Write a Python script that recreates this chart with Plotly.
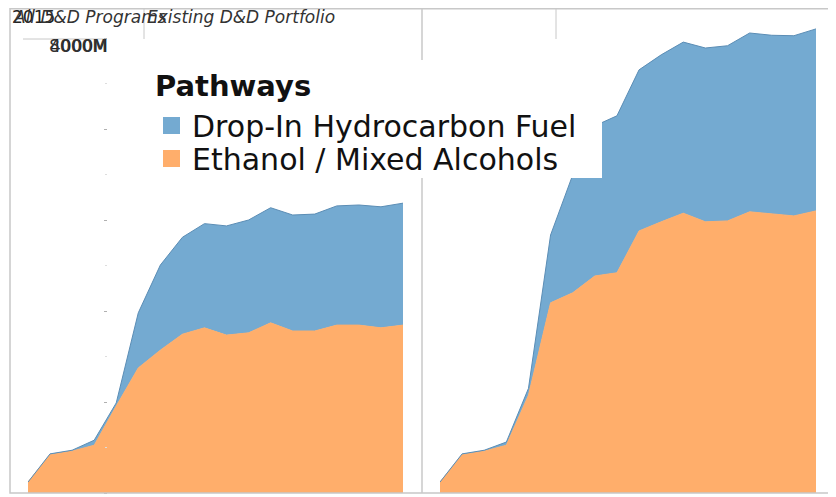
import plotly.graph_objects as go

W, H = 836, 497
OFF = 8  # page body margin offset

years = list(range(2013, 2031))

# All D&D Programs (left panel), $M
all_ethanol = [24, 84, 92, 105, 191, 275, 314, 349, 363, 347, 352, 374, 356, 356, 369, 369, 363, 369]
all_dropin = [0, 2, 2, 11, 7, 121, 187, 213, 229, 240, 248, 253, 255, 257, 262, 264, 266, 268]

# Existing D&D Portfolio (right panel), $M
ex_ethanol = [24, 84, 92, 105, 215, 418, 440, 477, 484, 576, 596, 615, 596, 598, 618, 613, 609, 620]
ex_dropin = [0, 2, 2, 7, 15, 149, 259, 330, 345, 354, 367, 376, 382, 385, 393, 393, 396, 400]

panel_titles = ["All D&D Programs", "Existing D&D Portfolio"]
series_names = ["Drop-In Hydrocarbon Fuel", "Ethanol / Mixed Alcohols"]
legend_title = "Pathways"

BLUE = "#74aad1"
BLUE_LINE = "#5b8db5"
ORANGE = "#ffae6b"
FRAME = "#c8c8c8"
FONT = "DejaVu Sans"


def px(x):
    return min(max((x - OFF) / W, 0), 1)


def py(y):
    return min(max((H - (y - OFF)) / H, 0), 1)


fig = go.Figure()

panels = [(all_ethanol, all_dropin, "x", "y", "a"), (ex_ethanol, ex_dropin, "x2", "y2", "b")]
for eth, drop, xa, ya, grp in panels:
    fig.add_trace(go.Scatter(x=years, y=eth, xaxis=xa, yaxis=ya, stackgroup=grp,
                             mode="lines", line=dict(color=ORANGE, width=1),
                             fillcolor=ORANGE, name=series_names[1], hoverinfo="skip"))
    fig.add_trace(go.Scatter(x=years, y=drop, xaxis=xa, yaxis=ya, stackgroup=grp,
                             mode="lines", line=dict(color=BLUE_LINE, width=1),
                             fillcolor=BLUE, name=series_names[0], hoverinfo="skip"))

ymax = 485 / 0.455

fig.update_layout(
    width=W, height=H,
    margin=dict(l=0, r=0, t=0, b=0),
    paper_bgcolor="white", plot_bgcolor="white",
    font=dict(family=FONT, color="#000000"),
    showlegend=False,
    xaxis=dict(domain=[px(28), px(403)], range=[2013, 2030], visible=False),
    xaxis2=dict(domain=[px(440), px(816)], range=[2013, 2030], visible=False, anchor="y2"),
    yaxis=dict(domain=[py(493), py(8)], range=[0, ymax], showgrid=False, zeroline=False,
               showticklabels=False, showline=False, anchor="free", position=px(107),
               ticks="outside", ticklen=3, tickcolor="#b0b0b0", dtick=200, tick0=0,
               minor=dict(ticks="outside", ticklen=2, dtick=100, tickcolor="#dddddd")),
    yaxis2=dict(domain=[py(493), py(8)], range=[0, ymax], visible=False, anchor="x2", matches="y"),
)

shapes = [
    dict(type="rect", xref="paper", yref="paper", x0=px(10), x1=px(833), y0=py(493), y1=py(8.7),
         line=dict(color=FRAME, width=1.5), layer="above"),
    dict(type="line", xref="paper", yref="paper", x0=px(422), x1=px(422), y0=py(493), y1=py(8),
         line=dict(color=FRAME, width=1.5), layer="above"),
    dict(type="line", xref="paper", yref="paper", x0=px(144), x1=px(144), y0=py(39), y1=py(8),
         line=dict(color=FRAME, width=1), layer="above"),
    dict(type="line", xref="paper", yref="paper", x0=px(556), x1=px(556), y0=py(39), y1=py(8),
         line=dict(color=FRAME, width=1), layer="above"),
    dict(type="line", xref="paper", yref="paper", x0=px(23), x1=px(107), y0=py(39), y1=py(39),
         line=dict(color=FRAME, width=1), layer="below"),
    # legend box
    dict(type="rect", xref="paper", yref="paper", x0=px(145), x1=px(602), y0=py(178), y1=py(60),
         line=dict(width=0), fillcolor="white", layer="above"),
    dict(type="rect", xref="paper", yref="paper", x0=px(163), x1=px(180), y0=py(134), y1=py(117),
         line=dict(width=0), fillcolor=BLUE, layer="above"),
    dict(type="rect", xref="paper", yref="paper", x0=px(163), x1=px(180), y0=py(167), y1=py(150),
         line=dict(width=0), fillcolor=ORANGE, layer="above"),
]
fig.update_layout(shapes=shapes)

annotations = [
    dict(text="2015", x=px(10), y=py(17), xanchor="left", yanchor="middle",
         font=dict(size=17, color="#222222", family=FONT)),
    dict(text="<i>" + panel_titles[0] + "</i>", x=px(11), y=py(17), xanchor="left", yanchor="middle",
         font=dict(size=17, color="#333333", family=FONT)),
    dict(text="<i>" + panel_titles[1] + "</i>", x=px(145), y=py(17), xanchor="left", yanchor="middle",
         font=dict(size=17, color="#333333", family=FONT)),
    dict(text="4000M", x=px(48), y=py(46), xanchor="left", yanchor="middle",
         font=dict(size=17, color="#222222", family=FONT)),
    dict(text="8000M", x=px(47), y=py(46), xanchor="left", yanchor="middle",
         font=dict(size=17, color="#333333", family=FONT)),
    dict(text="<b>" + legend_title + "</b>", x=px(153), y=py(86), xanchor="left", yanchor="middle",
         font=dict(size=29, color="#111111", family=FONT)),
    dict(text=series_names[0], x=px(190), y=py(126), xanchor="left", yanchor="middle",
         font=dict(size=30, color="#111111", family=FONT)),
    dict(text=series_names[1], x=px(190), y=py(159), xanchor="left", yanchor="middle",
         font=dict(size=30, color="#111111", family=FONT)),
]
for a in annotations:
    a.update(xref="paper", yref="paper", showarrow=False)
fig.update_layout(annotations=annotations)

fig.write_html("out.html")
